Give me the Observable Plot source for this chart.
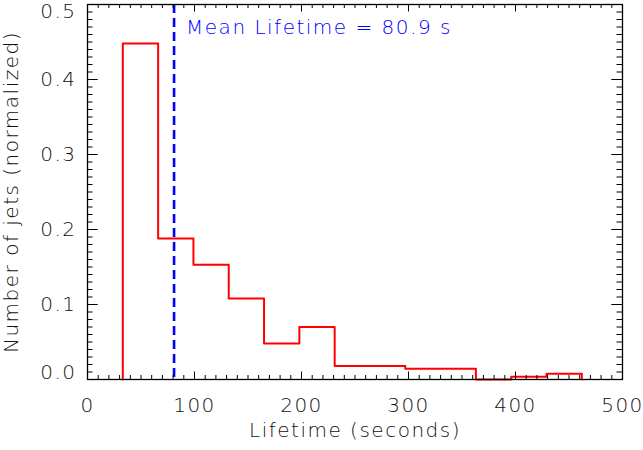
<!DOCTYPE html>
<html>
<head>
<meta charset="utf-8">
<script src="https://cdn.jsdelivr.net/npm/d3@7"></script>
<script src="https://cdn.jsdelivr.net/npm/@observablehq/plot@0.6"></script>
<style>
  html, body { margin: 0; padding: 0; background: #fff; }
  svg { display: block; }
  svg text { letter-spacing: 1.5px; }
</style>
</head>
<body>
<div id="chart"></div>
<script>
// Histogram bin left edges (seconds) and the final right edge
const binEdges = [33, 66, 99, 132, 165, 198, 231, 264, 297, 330, 363, 396, 429];
const lastEdge = 462;
// Normalized counts per bin
const binValues = [0.448, 0.188, 0.153, 0.108, 0.048, 0.070, 0.018, 0.018, 0.0145, 0.0145, 0, 0.0036, 0.0076];
// Mean lifetime
const meanLifetime = [80.9];
const meanLabel = ["Mean Lifetime = 80.9 s"];
// Axis ticks
const xMajorTicks = [0, 100, 200, 300, 400, 500];
const xMinorTicks = d3.range(0, 501, 10);
const yMajorTicks = [0, 0.1, 0.2, 0.3, 0.4, 0.5];
const yMinorTicks = d3.range(0, 51, 1).map(d => d / 100);
const xTitle = ["Lifetime (seconds)"];
const yTitle = ["Number of jets (normalized)"];

const W = 643, H = 450;
const mL = 87, mR = 21, mT = 4, mB = 71;
const pw = W - mL - mR, ph = H - mT - mB;

const steps = [{x: binEdges[0], y: 0}]
  .concat(binValues.map((v, i) => ({x: binEdges[i], y: v})))
  .concat([{x: lastEdge, y: binValues[binValues.length - 1]}, {x: lastEdge, y: 0}]);

const font = "DejaVu Sans";
const textColor = "#111";

const chart = Plot.plot({
  width: W,
  height: H,
  marginLeft: mL,
  marginRight: mR,
  marginTop: mT,
  marginBottom: mB,
  style: {fontFamily: font, fontSize: "20px", color: textColor, background: "#fff", fontWeight: 300},
  x: {domain: [0, 500]},
  y: {domain: [0, 0.5]},
  marks: [
    // histogram outline
    Plot.line(steps, {x: "x", y: "y", curve: "step-after", stroke: "#ff0000", strokeWidth: 2}),
    // mean line
    Plot.ruleX(meanLifetime, {x: d => d, stroke: "#0000ff", strokeWidth: 2.6, strokeDasharray: "9,5"}),
    Plot.text(meanLabel, {x: meanLifetime[0], text: d => d, frameAnchor: "top", textAnchor: "start", lineAnchor: "middle", dx: 12, dy: 23.5, fill: "#0000ff", fontSize: 20}),
    // ticks: bottom
    Plot.ruleX(xMinorTicks, {x: d => d, insetTop: ph - 4, stroke: "#000", strokeWidth: 1}),
    Plot.ruleX(xMajorTicks, {x: d => d, insetTop: ph - 7.5, stroke: "#000", strokeWidth: 1}),
    // ticks: top
    Plot.ruleX(xMinorTicks, {x: d => d, insetBottom: ph - 4, stroke: "#000", strokeWidth: 1}),
    Plot.ruleX(xMajorTicks, {x: d => d, insetBottom: ph - 7.5, stroke: "#000", strokeWidth: 1}),
    // ticks: left
    Plot.ruleY(yMinorTicks, {y: d => d, insetRight: pw - 5.5, stroke: "#000", strokeWidth: 1}),
    Plot.ruleY(yMajorTicks, {y: d => d, insetRight: pw - 10.7, stroke: "#000", strokeWidth: 1}),
    // ticks: right
    Plot.ruleY(yMinorTicks, {y: d => d, insetLeft: pw - 5.5, stroke: "#000", strokeWidth: 1}),
    Plot.ruleY(yMajorTicks, {y: d => d, insetLeft: pw - 10.7, stroke: "#000", strokeWidth: 1}),
    Plot.frame({stroke: "#000", strokeWidth: 1.3}),
    // axis labels
    Plot.axisX({ticks: xMajorTicks, tickSize: 0, tickPadding: 18, tickFormat: "d", fontSize: 20, label: null, fill: textColor}),
    Plot.axisY({ticks: yMajorTicks.slice(1, 5), tickSize: 0, tickPadding: 11, tickFormat: ".1f", fontSize: 20, label: null, fill: textColor}),
    Plot.text([yMajorTicks[0]], {y: d => d, text: d => d.toFixed(1), frameAnchor: "left", textAnchor: "end", lineAnchor: "middle", dx: -11, dy: -7, fontSize: 20, fill: textColor}),
    Plot.text([yMajorTicks[5]], {y: d => d, text: d => d.toFixed(1), frameAnchor: "left", textAnchor: "end", lineAnchor: "middle", dx: -11, dy: 7.5, fontSize: 20, fill: textColor}),
    // axis titles
    Plot.text(xTitle, {text: d => d, frameAnchor: "bottom", textAnchor: "middle", lineAnchor: "top", dy: 43, fontSize: 20, fill: textColor}),
    Plot.text(yTitle, {text: d => d, frameAnchor: "left", textAnchor: "middle", rotate: -90, lineAnchor: "middle", dx: -76, fontSize: 20, fill: textColor})
  ]
});
document.getElementById("chart").appendChild(chart);
</script>
</body>
</html>
